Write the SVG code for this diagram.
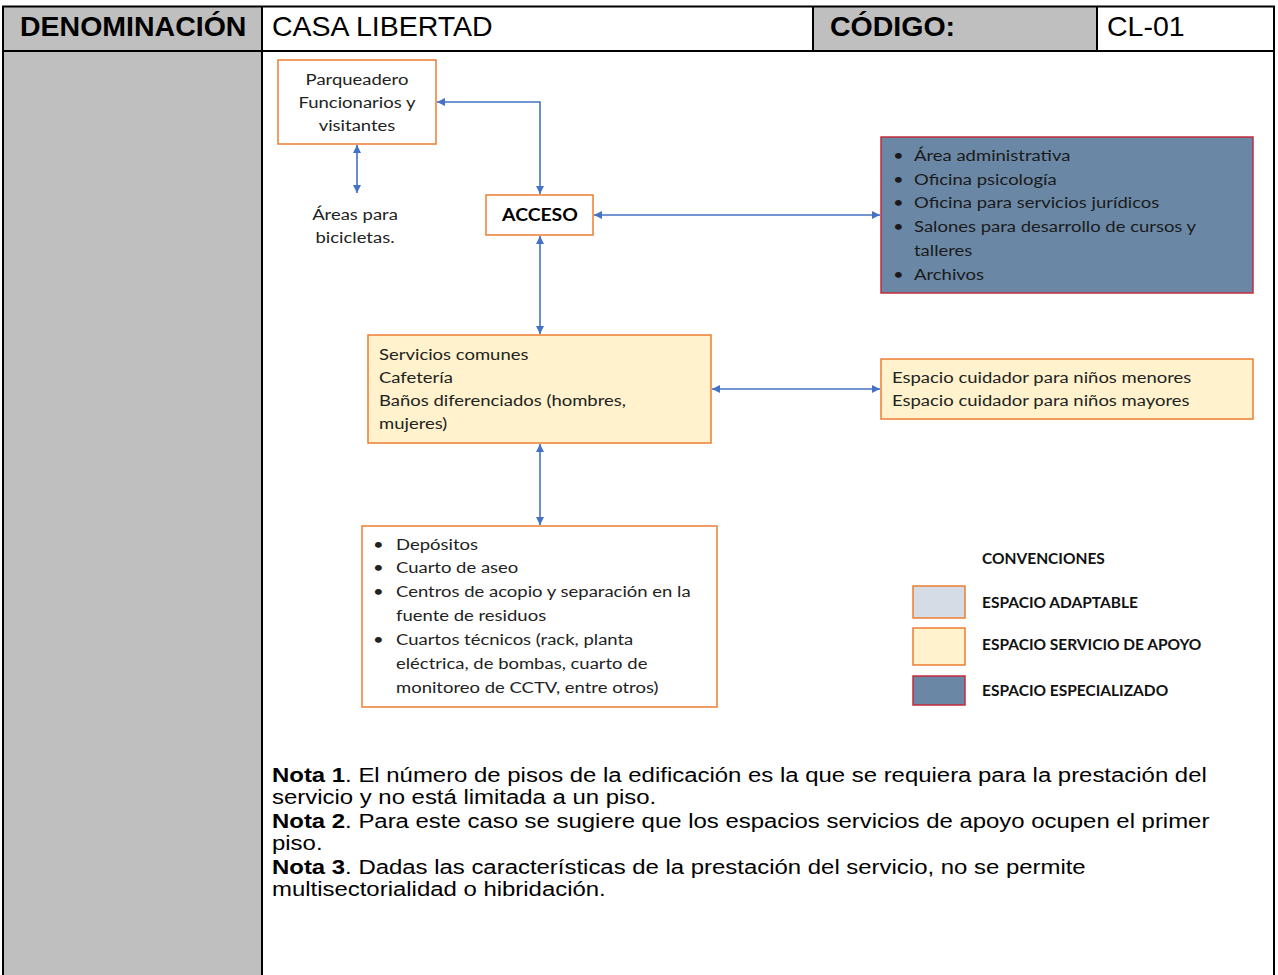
<svg xmlns="http://www.w3.org/2000/svg" width="1278" height="975" viewBox="0 0 1278 975">
<style>
.hdr{font-family:"Liberation Sans",Arial,sans-serif;font-size:28.5px;fill:#000}
.b{font-weight:bold}
.grid{stroke:#000;stroke-width:2;fill:none}
.box{stroke:#ed7d31;stroke-width:1.5}
.lbl{font-family:Lato,"Open Sans",sans-serif;font-size:16px;fill:#222}
.leg{font-family:Lato,"Open Sans",sans-serif;font-size:14.5px;font-weight:bold;fill:#111}
.note{font-family:"Liberation Sans",Arial,sans-serif;font-size:21px;fill:#000}
.conn{stroke:#4472c4;stroke-width:1.6;fill:none;marker-start:url(#ah);marker-end:url(#ah)}
</style>
<defs>
<marker id="ah" viewBox="0 0 10 10" refX="10" refY="5" markerWidth="9" markerHeight="8" markerUnits="userSpaceOnUse" orient="auto-start-reverse">
<path d="M0,0 L10,5 L0,10 z" fill="#4472c4"/>
</marker>
</defs>
<rect width="1278" height="975" fill="#fff"/>
<g id="table">
<rect x="3" y="7" width="259" height="968" fill="#bfbfbf"/>
<rect x="813" y="7" width="284" height="44" fill="#bfbfbf"/>
<line class="grid" x1="2" y1="6.5" x2="1275" y2="6.5"/>
<line class="grid" x1="2" y1="51" x2="1275" y2="51"/>
<line class="grid" x1="3" y1="6" x2="3" y2="975"/>
<line class="grid" x1="1274" y1="6" x2="1274" y2="975"/>
<line class="grid" x1="262" y1="6" x2="262" y2="975"/>
<line class="grid" x1="813" y1="6" x2="813" y2="51"/>
<line class="grid" x1="1097" y1="6" x2="1097" y2="51"/>
<text class="hdr b" x="20" y="36">DENOMINACIÓN</text>
<text class="hdr" x="272" y="36">CASA LIBERTAD</text>
<text class="hdr b" x="830" y="36">CÓDIGO:</text>
<text class="hdr" x="1107" y="36">CL-01</text>
</g>
<g id="connectors">
<path class="conn" d="M437 102 H540 V194"/>
<path class="conn" d="M357 145 V193"/>
<path class="conn" d="M594 215 H880"/>
<path class="conn" d="M540 236 V334"/>
<path class="conn" d="M712 389 H880"/>
<path class="conn" d="M540 444 V525"/>
</g>
<g id="parqueadero">
<rect class="box" x="278" y="60" width="158" height="84" fill="#fff"/>
<text class="lbl" text-anchor="middle" transform="matrix(1.155,0,0,1,-55.335,0)"><tspan x="357" y="85">Parqueadero</tspan><tspan x="357" y="108">Funcionarios y</tspan><tspan x="357" y="131">visitantes</tspan></text>
</g>
<g id="bicicletas">
<text class="lbl" text-anchor="middle" transform="matrix(1.155,0,0,1,-55.025,0)"><tspan x="355" y="220">Áreas para</tspan><tspan x="355" y="243">bicicletas.</tspan></text>
</g>
<g id="acceso">
<rect class="box" x="486" y="195" width="107" height="40" fill="#fff"/>
<text class="lbl b" x="540" y="221" text-anchor="middle" transform="matrix(1.14,0,0,1,-75.6,0)" style="font-size:17px;fill:#000">ACCESO</text>
</g>
<g id="especializado">
<rect x="881" y="137" width="372" height="156" fill="#6a88a5" stroke="#c42b3c" stroke-width="1.5"/>
<text class="lbl" style="fill:#1a1a1a" transform="matrix(1.155,0,0,1,-141.67,0)"><tspan x="895.8" y="161">•</tspan><tspan x="914" y="161">Área administrativa</tspan><tspan x="895.8" y="185">•</tspan><tspan x="914" y="185">Oficina psicología</tspan><tspan x="895.8" y="208">•</tspan><tspan x="914" y="208">Oficina para servicios jurídicos</tspan><tspan x="895.8" y="232">•</tspan><tspan x="914" y="232">Salones para desarrollo de cursos y</tspan><tspan x="914" y="256">talleres</tspan><tspan x="895.8" y="280">•</tspan><tspan x="914" y="280">Archivos</tspan></text>
</g>
<g id="servicios">
<rect class="box" x="368" y="335" width="343" height="108" fill="#fff2cc"/>
<text class="lbl" transform="matrix(1.155,0,0,1,-58.745,0)"><tspan x="379" y="360">Servicios comunes</tspan><tspan x="379" y="383">Cafetería</tspan><tspan x="379" y="406">Baños diferenciados (hombres,</tspan><tspan x="379" y="429">mujeres)</tspan></text>
</g>
<g id="cuidador">
<rect class="box" x="881" y="359" width="372" height="60" fill="#fff2cc"/>
<text class="lbl" transform="matrix(1.155,0,0,1,-138.26,0)"><tspan x="892" y="383">Espacio cuidador para niños menores</tspan><tspan x="892" y="406">Espacio cuidador para niños mayores</tspan></text>
</g>
<g id="depositos">
<rect class="box" x="362" y="526" width="355" height="181" fill="#fff"/>
<text class="lbl" transform="matrix(1.155,0,0,1,-61.38,0)"><tspan x="376.1" y="550">•</tspan><tspan x="396" y="550">Depósitos</tspan><tspan x="376.1" y="573">•</tspan><tspan x="396" y="573">Cuarto de aseo</tspan><tspan x="376.1" y="597">•</tspan><tspan x="396" y="597">Centros de acopio y separación en la</tspan><tspan x="396" y="621">fuente de residuos</tspan><tspan x="376.1" y="645">•</tspan><tspan x="396" y="645">Cuartos técnicos (rack, planta</tspan><tspan x="396" y="669">eléctrica, de bombas, cuarto de</tspan><tspan x="396" y="693">monitoreo de CCTV, entre otros)</tspan></text>
</g>
<g id="convenciones">
<rect x="913" y="586" width="52" height="32" fill="#d6dce5" stroke="#ed7d31" stroke-width="1.5"/>
<rect x="913" y="628" width="52" height="37" fill="#fff2cc" stroke="#ed7d31" stroke-width="1.5"/>
<rect x="913" y="676" width="52" height="29" fill="#6a88a5" stroke="#c42b3c" stroke-width="1.5"/>
<text class="leg" transform="matrix(1.07,0,0,1,-68.74,0)"><tspan x="982" y="564">CONVENCIONES</tspan><tspan x="982" y="608">ESPACIO ADAPTABLE</tspan><tspan x="982" y="650">ESPACIO SERVICIO DE APOYO</tspan><tspan x="982" y="696">ESPACIO ESPECIALIZADO</tspan></text>
</g>
<g id="notas">
<text class="note" transform="matrix(1.14,0,0,1,-38.08,0)"><tspan x="272" y="782" font-weight="bold">Nota 1</tspan><tspan>. El número de pisos de la edificación es la que se requiera para la prestación del</tspan><tspan x="272" y="804">servicio y no está limitada a un piso.</tspan><tspan x="272" y="828" font-weight="bold">Nota 2</tspan><tspan>. Para este caso se sugiere que los espacios servicios de apoyo ocupen el primer</tspan><tspan x="272" y="850">piso.</tspan><tspan x="272" y="874" font-weight="bold">Nota 3</tspan><tspan>. Dadas las características de la prestación del servicio, no se permite</tspan><tspan x="272" y="896">multisectorialidad o hibridación.</tspan></text>
</g>
</svg>
